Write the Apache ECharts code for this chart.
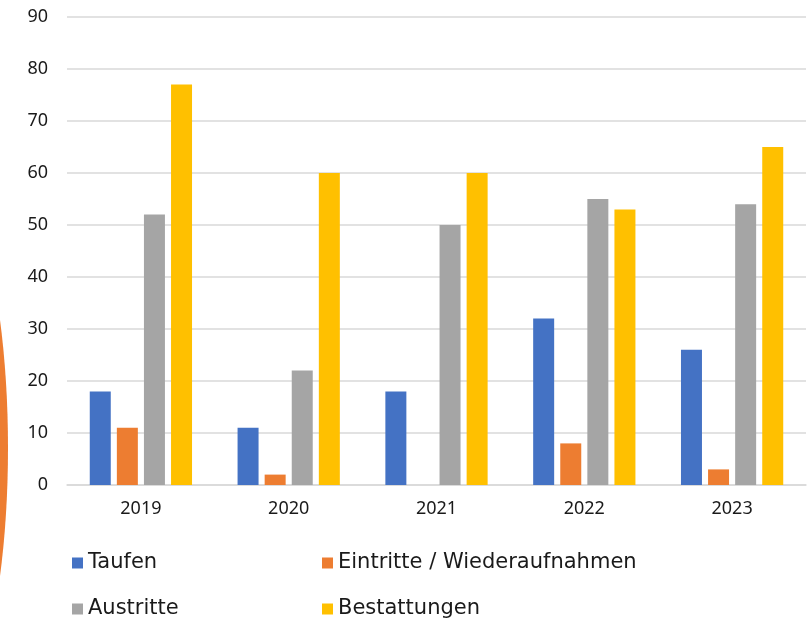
<!DOCTYPE html>
<html>
<head>
<meta charset="utf-8">
<script src="https://cdn.jsdelivr.net/npm/echarts@6/dist/echarts.min.js"></script>
<style>
  html, body { margin: 0; padding: 0; background: #fff; }
  #chart { width: 812px; height: 624px; }
</style>
</head>
<body>
<div id="chart"></div>
<script>
// Jahre
const years = ['2019', '2020', '2021', '2022', '2023']
// Werte je Reihe
const taufen = [18, 11, 18, 32, 26]
const eintritte = [11, 2, 0, 8, 3]
const austritte = [52, 22, 50, 55, 54]
const bestattungen = [77, 60, 60, 53, 65]
const seriesNames = ['Taufen', 'Eintritte / Wiederaufnahmen', 'Austritte', 'Bestattungen']
const colors = ['#4472C4', '#ED7D31', '#A5A5A5', '#FFC000']

const font = '"Noto Sans", "Open Sans", sans-serif'

const myChart = echarts.init(document.getElementById('chart'))

const makeBar = (name, data) => ({
  name: name,
  type: 'bar',
  data: data,
  barWidth: 21,
  barGap: '29%'
})

const legendText = {
  fontFamily: '"DejaVu Sans", sans-serif',
  fontSize: 21,
  lineHeight: 24,
  color: '#1a1a1a'
}

// zwei Legenden-Spalten (2x2 Anordnung)
const makeLegend = (names, left) => ({
  data: names,
  orient: 'vertical',
  left: left,
  top: 551,
  height: 73,
  padding: 0,
  itemWidth: 11,
  itemHeight: 11,
  itemGap: 22,
  icon: 'rect',
  textStyle: legendText
})

const option = {
  color: colors,
  animation: false,
  graphic: [{
    // orange Deko-Bogen links
    type: 'ellipse',
    shape: { cx: -70, cy: 448, rx: 78, ry: 290 },
    style: { fill: '#ED7D31' },
    z: 0
  }],
  grid: {
    left: 67,
    right: 6,
    top: 17,
    bottom: 139
  },
  legend: [
    makeLegend(['Taufen', 'Austritte'], 72),
    makeLegend(['Eintritte / Wiederaufnahmen', 'Bestattungen'], 322)
  ],
  xAxis: {
    type: 'category',
    data: years,
    axisLine: { show: true, lineStyle: { color: '#d9d9d9', width: 1.5 } },
    axisTick: { show: false },
    axisLabel: {
      fontFamily: font,
      fontSize: 18,
      color: '#1a1a1a',
      margin: 15
    }
  },
  yAxis: {
    type: 'value',
    min: 0,
    max: 90,
    interval: 10,
    axisLine: { show: false },
    axisTick: { show: false },
    axisLabel: {
      fontFamily: font,
      fontSize: 18,
      color: '#1a1a1a',
      margin: 19
    },
    splitLine: { lineStyle: { color: '#d9d9d9', width: 1.5 } }
  },
  series: [
    makeBar(seriesNames[0], taufen),
    makeBar(seriesNames[1], eintritte),
    makeBar(seriesNames[2], austritte),
    makeBar(seriesNames[3], bestattungen)
  ]
}

myChart.setOption(option)
</script>
</body>
</html>
